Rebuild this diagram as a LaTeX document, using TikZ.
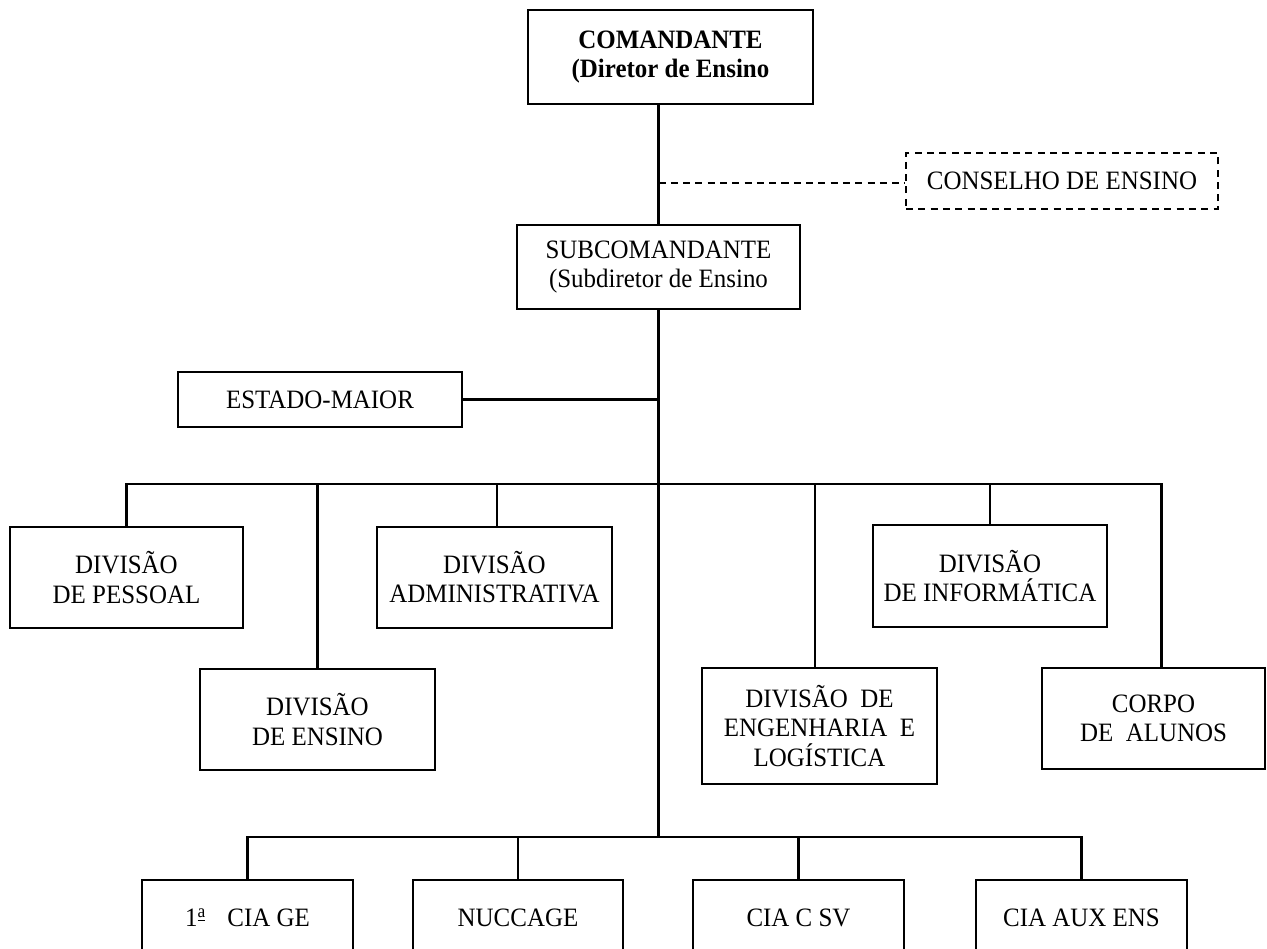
\documentclass[tikz,border=0pt]{standalone}
\usepackage{fontspec}
\setmainfont{Liberation Serif}[FakeStretch=0.94]
\usepackage{tikz}
\usetikzlibrary{positioning}
\newcommand{\orgfont}{\fontsize{15.1}{16.6}\selectfont}
\tikzset{
  orgbox/.style={
    rectangle,
    draw=black,
    line width=1.4pt,
    inner sep=0pt,
    align=center,
    font=\orgfont
  },
  orgdash/.style={
    orgbox,
    dash pattern=on 4pt off 3pt
  },
  orglink/.style={
    line width=1.3pt,
    draw=black
  },
  orglinkdash/.style={
    orglink,
    dash pattern=on 4pt off 3pt
  }
}

\begin{document}
\begin{tikzpicture}[x=0.02cm, y=-0.02cm]
    \useasboundingbox (0,0) rectangle (1267,948);

    \node (cmd) [orgbox, font=\orgfont\bfseries, minimum width=5.70cm, minimum height=1.88cm] at (670.5,57) {COMANDANTE\\(Diretor de Ensino};
    \node (conselho) [orgdash, minimum width=6.24cm, minimum height=1.12cm] at (1062,181) {CONSELHO DE ENSINO};
    \node (subcmd) [orgbox, minimum width=5.66cm, minimum height=1.68cm] at (658.5,267) {SUBCOMANDANTE\\(Subdiretor de Ensino};
    \node (estado) [orgbox, minimum width=5.68cm, minimum height=1.10cm] at (320,399.5) {ESTADO-MAIOR};

    \node (pessoal) [orgbox, minimum width=4.66cm, minimum height=2.02cm] at (126.5,577.5) {DIVISÃO\\DE PESSOAL};
    \node (admin) [orgbox, minimum width=4.70cm, minimum height=2.02cm] at (494.5,577.5) {DIVISÃO\\ADMINISTRATIVA};
    \node (inform) [orgbox, minimum width=4.68cm, minimum height=2.04cm] at (990,576) {DIVISÃO\\DE INFORMÁTICA};
    \node (ensino) [orgbox, minimum width=4.70cm, minimum height=2.02cm] at (317.5,719.5) {DIVISÃO\\DE ENSINO};
    \node (eng) [orgbox, minimum width=4.70cm, minimum height=2.32cm] at (819.5,726) {DIVISÃO\ \ DE\\ENGENHARIA\ \ E\\LOGÍSTICA};
    \node (corpo) [orgbox, minimum width=4.46cm, minimum height=2.02cm] at (1153.5,718.5) {CORPO\\DE\ \ ALUNOS};

    \node (cia1) [orgbox, minimum width=4.22cm, minimum height=1.52cm] at (247.5,918) {1\textsuperscript{\underline{a}}\hspace{12pt}CIA GE};
    \node (nuccage) [orgbox, minimum width=4.20cm, minimum height=1.52cm] at (518,918) {NUCCAGE};
    \node (ciacsv) [orgbox, minimum width=4.22cm, minimum height=1.52cm] at (798.5,918) {CIA C SV};
    \node (ciaaux) [orgbox, minimum width=4.22cm, minimum height=1.52cm] at (1081.5,918) {CIA AUX ENS};

    \coordinate (bus) at (subcmd.south |- 0,484);
    \coordinate (bus2) at (subcmd.south |- 0,837);

    \draw[orglink] (subcmd.north) -- (subcmd.north |- cmd.south);
    \draw[orglinkdash] (subcmd.north |- 0,183) -- (conselho.west |- 0,183);
    \draw[orglink] (estado.east) -- (estado.east -| subcmd.south);
    \draw[orglink] (subcmd.south) -- (bus2);

    \draw[orglink] (pessoal.north) |- (bus);
    \draw[orglink] ([xshift=0.16cm]corpo.north) |- (bus);
    \draw[orglink] (ensino.north) -- (ensino.north |- bus);
    \draw[orglink] ([xshift=0.05cm]admin.north) -- ([xshift=0.05cm]admin.north |- bus);
    \draw[orglink] ([xshift=-0.09cm]eng.north) -- ([xshift=-0.09cm]eng.north |- bus);
    \draw[orglink] (inform.north) -- (inform.north |- bus);

    \draw[orglink] (cia1.north) |- (bus2);
    \draw[orglink] (ciaaux.north) |- (bus2);
    \draw[orglink] (nuccage.north) -- (nuccage.north |- bus2);
    \draw[orglink] (ciacsv.north) -- (ciacsv.north |- bus2);
  \end{tikzpicture}
\end{document}
